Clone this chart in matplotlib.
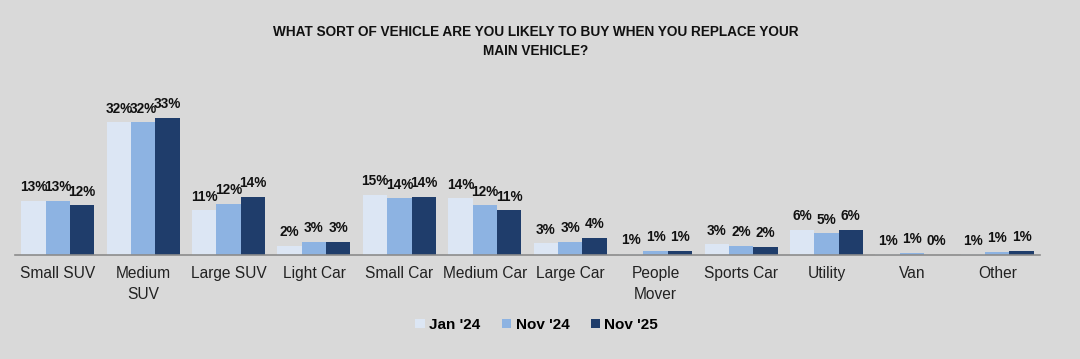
import matplotlib.pyplot as plt
import numpy as np

plt.rcParams['font.family'] = ['Liberation Sans', 'DejaVu Sans']

categories = ['Small SUV', 'Medium\nSUV', 'Large SUV', 'Light Car', 'Small Car', 'Medium Car',
              'Large Car', 'People\nMover', 'Sports Car', 'Utility', 'Van', 'Other']
series = ["Jan '24", "Nov '24", "Nov '25"]

jan24 = [13.0, 32.0, 10.8, 2.2, 14.5, 13.7, 2.8, 0.3, 2.6, 6.0, 0.2, 0.2]
nov24 = [13.0, 32.0, 12.3, 3.1, 13.7, 12.0, 3.2, 1.0, 2.2, 5.2, 0.5, 0.7]
nov25 = [12.0, 33.0, 14.0, 3.1, 14.0, 10.8, 4.1, 1.0, 1.9, 6.0, 0.1, 1.0]

jan24_lbl = [13, 32, 11, 2, 15, 14, 3, 1, 3, 6, 1, 1]
nov24_lbl = [13, 32, 12, 3, 14, 12, 3, 1, 2, 5, 1, 1]
nov25_lbl = [12, 33, 14, 3, 14, 11, 4, 1, 2, 6, 0, 1]

colors = ['#dce6f4', '#8db3e2', '#1f3d6b']
bg = '#d9d9d9'

fig = plt.figure(figsize=(10.8, 3.59), dpi=100, facecolor=bg)
ax = fig.add_axes([15 / 1080, 104 / 359, 1025 / 1080, 166 / 359])
ax.set_facecolor(bg)

x = np.arange(len(categories))
w = 0.285
for i, (vals, lbls) in enumerate(zip([jan24, nov24, nov25], [jan24_lbl, nov24_lbl, nov25_lbl])):
    pos = x + (i - 1) * w
    ax.bar(pos, vals, width=w, color=colors[i], label=series[i], zorder=2)
    for p, v, l in zip(pos, vals, lbls):
        ax.text(p, v + 1.6, f'{l}%', ha='center', va='bottom', fontsize=9.8,
                fontweight='bold', color='#111111')

ax.set_xlim(-0.5, len(categories) - 0.5)
ax.set_ylim(0, 40)
ax.set_yticks([])
ax.set_xticks(x)
ax.set_xticklabels(categories, fontsize=11.2, color='#222222', linespacing=1.5)
ax.tick_params(axis='x', length=0, pad=8)
for s in ['top', 'left', 'right']:
    ax.spines[s].set_visible(False)
ax.spines['bottom'].set_color('#8c8c8c')
ax.spines['bottom'].set_linewidth(1.2)

fig.text(0.496, 0.885, 'WHAT SORT OF VEHICLE ARE YOU LIKELY TO BUY WHEN YOU REPLACE YOUR\nMAIN VEHICLE?',
         ha='center', va='center', fontsize=9.8, fontweight='bold', color='#111111', linespacing=1.45)

fig.legend(loc='center', bbox_to_anchor=(0.497, 0.095), ncol=3, frameon=False,
           handlelength=0.6, handleheight=0.6, handletextpad=0.3, columnspacing=1.4,
           prop={'size': 11, 'weight': 'bold'})

fig.savefig('out.png', dpi=100, facecolor=bg)
